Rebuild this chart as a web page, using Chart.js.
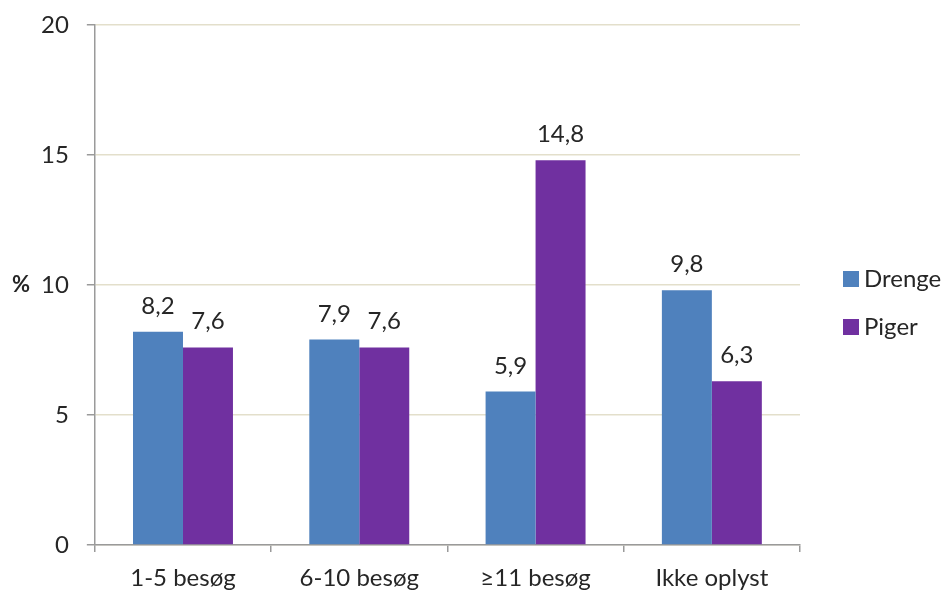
<!DOCTYPE html>
<html>
<head>
<meta charset="utf-8">
<script src="https://cdn.jsdelivr.net/npm/chart.js@4.4.0/dist/chart.umd.min.js"></script>
<style>
  html, body { margin: 0; padding: 0; background: #fff; }
  #wrap { width: 946px; height: 590px; }
</style>
</head>
<body>
<div id="wrap"><canvas id="c" width="946" height="590"></canvas></div>
<script>
const categories = ['1-5 besøg', '6-10 besøg', '≥11 besøg', 'Ikke oplyst'];
const drenge = [8.2, 7.9, 5.9, 9.8];
const piger = [7.6, 7.6, 14.8, 6.3];
const yTicks = [0, 5, 10, 15, 20];

const FONT = 'Lato, "Open Sans", sans-serif';
const TEXT = '#262626';

// value labels over each bar, comma decimal
const barLabels = {
  id: 'barLabels',
  afterDatasetsDraw(chart) {
    const ctx = chart.ctx;
    ctx.save();
    ctx.font = '24px ' + FONT;
    ctx.fillStyle = TEXT;
    ctx.textAlign = 'center';
    ctx.textBaseline = 'alphabetic';
    chart.data.datasets.forEach((ds, i) => {
      chart.getDatasetMeta(i).data.forEach((bar, j) => {
        const txt = ds.data[j].toFixed(1).replace('.', ',');
        ctx.fillText(txt, bar.x, bar.y - 18);
      });
    });
    ctx.restore();
  }
};

// "%" title beside the y axis, not rotated
const yTitle = {
  id: 'yTitle',
  afterDraw(chart) {
    const ctx = chart.ctx;
    const y = chart.scales.y.getPixelForValue(10);
    ctx.save();
    ctx.font = 'bold 22px ' + FONT;
    ctx.fillStyle = TEXT;
    ctx.textAlign = 'center';
    ctx.textBaseline = 'middle';
    ctx.fillText('%', 21, y);
    ctx.restore();
  }
};

// legend at the right, drawn in the space left by layout padding
const sideLegend = {
  id: 'sideLegend',
  afterDraw(chart) {
    const ctx = chart.ctx;
    const area = chart.chartArea;
    const mid = (area.top + area.bottom) / 2;
    ctx.save();
    ctx.font = '24px ' + FONT;
    ctx.textBaseline = 'middle';
    ctx.textAlign = 'left';
    chart.data.datasets.forEach((ds, i) => {
      const cy = mid - 6 + i * 48;
      const bx = area.right + 43;
      ctx.fillStyle = ds.backgroundColor;
      ctx.fillRect(bx, cy - 8, 16, 16);
      ctx.fillStyle = TEXT;
      ctx.fillText(ds.label, bx + 21, cy);
    });
    ctx.restore();
  }
};

new Chart(document.getElementById('c'), {
  type: 'bar',
  data: {
    labels: categories,
    datasets: [
      { label: 'Drenge', data: drenge, backgroundColor: '#4f81bd' },
      { label: 'Piger', data: piger, backgroundColor: '#7030a0' }
    ]
  },
  options: {
    responsive: false,
    animation: false,
    layout: { padding: { top: 25, left: 23, right: 146, bottom: -14 } },
    datasets: { bar: { categoryPercentage: 0.567, barPercentage: 1 } },
    scales: {
      x: {
        grid: { offset: true, drawOnChartArea: false, drawTicks: true, tickLength: 7, color: '#9a9a9a', lineWidth: 1.5 },
        border: { color: '#9a9a9a', width: 1.5 },
        ticks: { color: TEXT, font: { family: FONT, size: 24, lineHeight: 1 }, padding: 14 }
      },
      y: {
        min: 0, max: 20,
        afterBuildTicks(axis) { axis.ticks = yTicks.map(v => ({ value: v })); },
        afterFit(axis) { axis.paddingTop = 0; axis.paddingBottom = 0; },
        grid: { color: '#e3dfcb', lineWidth: 1.5, tickColor: '#9a9a9a', tickLength: 8 },
        border: { color: '#9a9a9a', width: 1.5 },
        ticks: { color: TEXT, font: { family: FONT, size: 24 }, padding: 18 }
      }
    },
    plugins: {
      legend: { display: false },
      tooltip: { enabled: false }
    }
  },
  plugins: [barLabels, yTitle, sideLegend]
});
</script>
</body>
</html>
